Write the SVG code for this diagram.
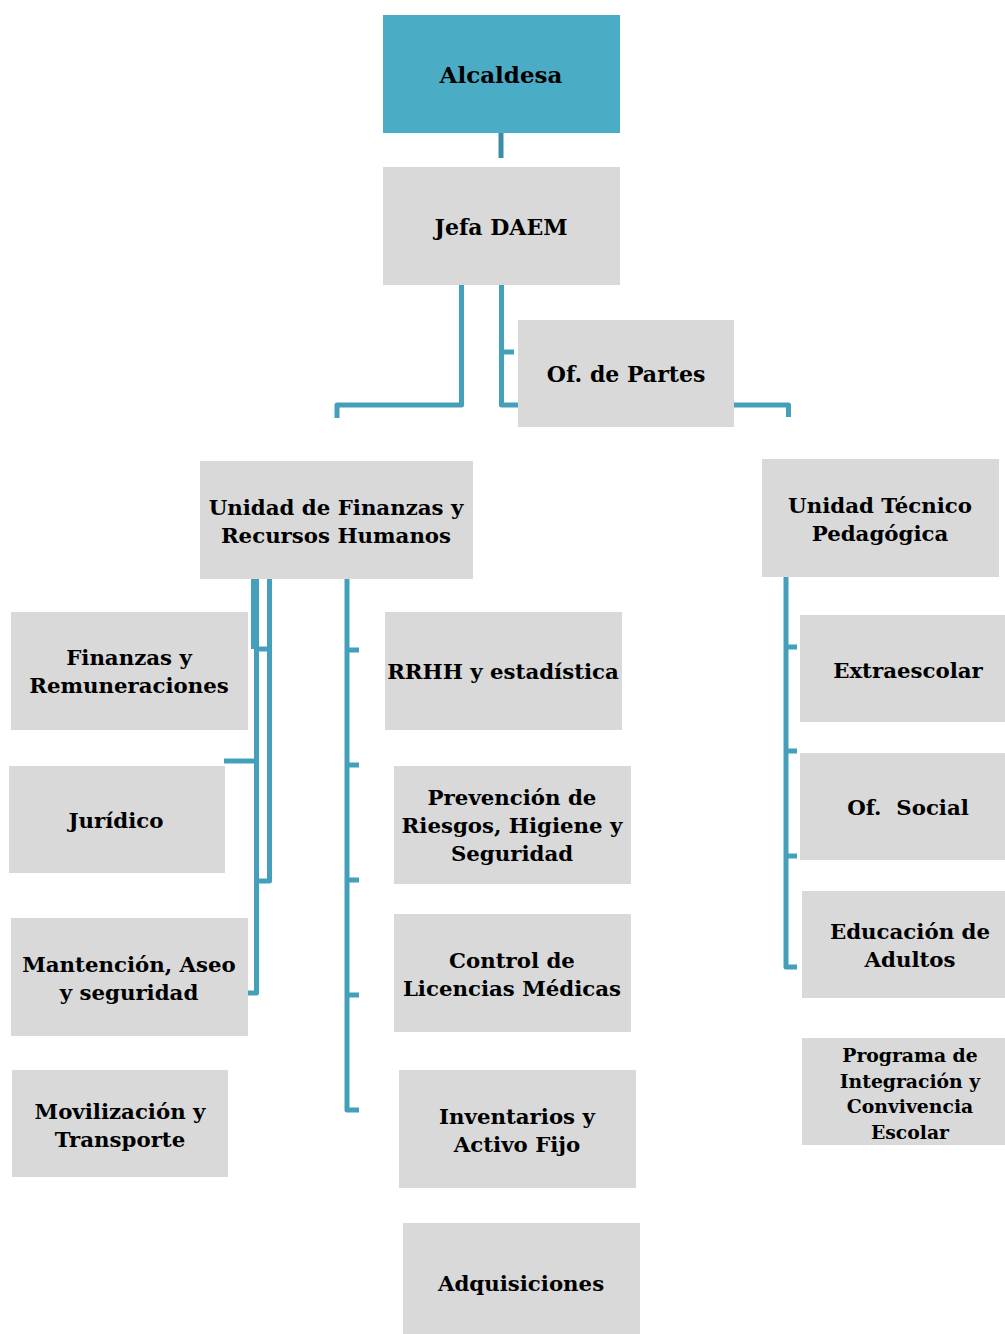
<svg xmlns="http://www.w3.org/2000/svg" width="1005" height="1334" viewBox="0 0 1005 1334">
<style>
.box{fill:#D9D9D9}
.top{fill:#4BACC6}
text{font-family:"DejaVu Serif","Liberation Serif",serif;font-weight:bold;fill:#000;text-anchor:middle;font-size:21.3px}
.big{font-size:23px}
.mid{font-size:22px}
.small{font-size:18.8px}
.c{fill:none;stroke:#44A0BA;stroke-width:5;stroke-linejoin:round}
</style>
<rect width="1005" height="1334" fill="#fff"/>
<g id="connectors">
<line x1="501" y1="133" x2="501" y2="158" stroke="#3A8DA5" stroke-width="5"/>
<path class="c" d="M461.5 285 V405 H337 V418"/>
<path class="c" d="M501.5 285 V405 H788.5 V417"/>
<path class="c" d="M501.5 352 H514"/>
<path class="c" d="M256.5 579 V993 H248"/>
<rect x="251" y="579" width="6" height="70" fill="#44A0BA"/>
<path class="c" d="M269.5 579 V881 H257"/>
<path class="c" d="M257 649 H272"/>
<path class="c" d="M224 761 H257"/>
<path class="c" d="M347 579 V1110 H359"/>
<path class="c" d="M347 650 H359 M347 765 H359 M347 880 H359 M347 995 H359"/>
<path class="c" d="M786 577 V967 H797"/>
<path class="c" d="M786 647 H797 M786 751 H797 M786 856 H797"/>
</g>
<g id="alcaldesa"><rect class="top" x="383" y="15" width="237" height="118"/><text class="big" x="501" y="83">Alcaldesa</text></g>
<g id="jefa"><rect class="box" x="383" y="167" width="237" height="118"/><text class="mid" x="501" y="235">Jefa DAEM</text></g>
<g id="partes"><rect class="box" x="518" y="320" width="216" height="107"/><text class="mid" x="626" y="382">Of. de Partes</text></g>
<g id="finanzasrh"><rect class="box" x="200" y="461" width="273" height="118"/><text x="336" y="515">Unidad de Finanzas y</text><text x="336" y="543">Recursos Humanos</text></g>
<g id="utp"><rect class="box" x="762" y="459" width="237" height="118"/><text x="880" y="513">Unidad Técnico</text><text x="880" y="541">Pedagógica</text></g>
<g id="finanzas"><rect class="box" x="11" y="612" width="237" height="118"/><text x="129" y="665">Finanzas y</text><text x="129" y="693">Remuneraciones</text></g>
<g id="juridico"><rect class="box" x="9" y="766" width="216" height="107"/><text x="116" y="828">Jurídico</text></g>
<g id="mantencion"><rect class="box" x="11" y="918" width="237" height="118"/><text x="129" y="972">Mantención, Aseo</text><text x="129" y="1000">y seguridad</text></g>
<g id="movilizacion"><rect class="box" x="12" y="1070" width="216" height="107"/><text x="120" y="1119">Movilización y</text><text x="120" y="1147">Transporte</text></g>
<g id="rrhh"><rect class="box" x="385" y="612" width="237" height="118"/><text x="503" y="679">RRHH y estadística</text></g>
<g id="prevencion"><rect class="box" x="394" y="766" width="237" height="118"/><text x="512" y="805">Prevención de</text><text x="512" y="833">Riesgos, Higiene y</text><text x="512" y="861">Seguridad</text></g>
<g id="control"><rect class="box" x="394" y="914" width="237" height="118"/><text x="512" y="968">Control de</text><text x="512" y="996">Licencias Médicas</text></g>
<g id="inventarios"><rect class="box" x="399" y="1070" width="237" height="118"/><text x="517" y="1124">Inventarios y</text><text x="517" y="1152">Activo Fijo</text></g>
<g id="adquisiciones"><rect class="box" x="403" y="1223" width="237" height="111"/><text x="521" y="1291">Adquisiciones</text></g>
<g id="extraescolar"><rect class="box" x="800" y="615" width="205" height="107"/><text x="908" y="678">Extraescolar</text></g>
<g id="social"><rect class="box" x="800" y="753" width="205" height="107"/><text x="908" y="815" xml:space="preserve">Of.  Social</text></g>
<g id="adultos"><rect class="box" x="802" y="891" width="203" height="107"/><text x="910" y="939">Educación de</text><text x="910" y="967">Adultos</text></g>
<g id="pie"><rect class="box" x="802" y="1038" width="203" height="107"/><text class="small" x="910" y="1062">Programa de</text><text class="small" x="910" y="1088">Integración y</text><text class="small" x="910" y="1113">Convivencia</text><text class="small" x="910" y="1139">Escolar</text></g>
</svg>
